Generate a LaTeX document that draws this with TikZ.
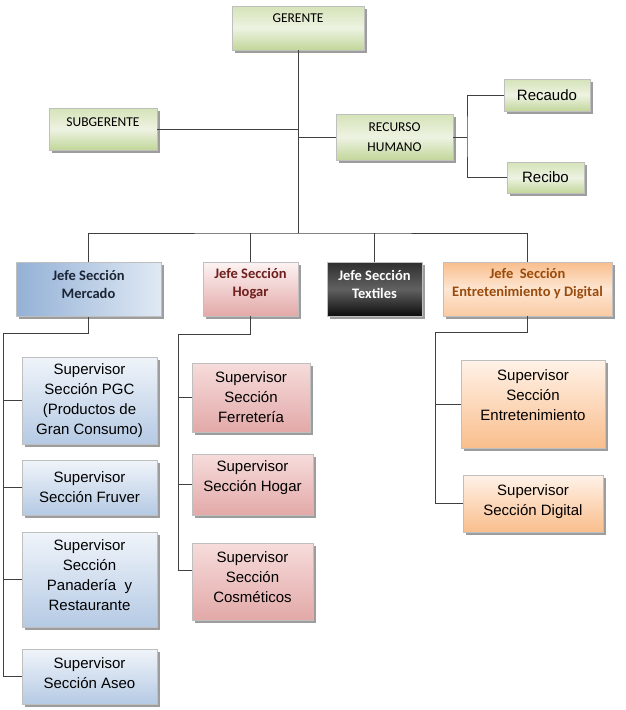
\documentclass[tikz,border=0pt]{standalone}
\usepackage{fontspec}
\setmainfont{Carlito}
\newfontfamily\arialfont{Liberation Sans}
\usetikzlibrary{shadows}
\definecolor{lineg}{HTML}{404040}
\definecolor{grtop}{HTML}{D5E3B8}
\definecolor{grmid}{HTML}{EDF3E2}
\definecolor{grbot}{HTML}{C2D69A}
\definecolor{bltop}{HTML}{F0F4FA}
\definecolor{blbot}{HTML}{B5CAE4}
\definecolor{bldark}{HTML}{93B1D6}
\definecolor{bllight}{HTML}{E0E9F4}
\definecolor{pktop}{HTML}{F6DCDB}
\definecolor{pkbot}{HTML}{E2A9A8}
\definecolor{pkhead}{HTML}{FDF3F3}
\definecolor{ortop}{HTML}{FFF2E8}
\definecolor{orbot}{HTML}{F9BE8C}
\definecolor{ormid}{HTML}{FDE6D3}
\definecolor{maroon}{HTML}{6E1F1E}
\definecolor{brownor}{HTML}{9A4A0A}
\definecolor{navyk}{HTML}{1C2536}
\tikzstyle{link}=[
	-,
	draw=lineg,
	line width=1pt
]
\tikzstyle{box}=[
	rectangle,
	draw=black!25,
	line width=0.5pt,
	align=center,
	inner sep=1mm,
	drop shadow={shadow xshift=2.5pt, shadow yshift=-2.5pt, fill=black!55, opacity=0.7}
]
\tikzstyle{gbox}=[
	box,
	top color=grtop,
	bottom color=grbot,
	middle color=grmid,
	font=\fontsize{13.5}{20}\selectfont
]
\tikzstyle{gsmall}=[
	gbox,
	font=\arialfont\fontsize{15}{20}\selectfont
]
\tikzstyle{jbox}=[
	box,
	font=\bfseries\fontsize{14.5}{18}\selectfont,
	minimum height=54pt
]
\tikzstyle{sbox}=[
	box,
	font=\arialfont\fontsize{15}{20}\selectfont
]
\tikzstyle{sblue}=[
	sbox,
	top color=bltop,
	bottom color=blbot,
	minimum width=135pt
]
\tikzstyle{spink}=[
	sbox,
	top color=pktop,
	bottom color=pkbot
]
\tikzstyle{sorange}=[
	sbox,
	top color=ortop,
	bottom color=orbot
]

\begin{document}
\begin{tikzpicture}[x=1pt,y=-1pt]
\useasboundingbox (0,0) rectangle (626,710);
% top levels
\node[gbox, minimum width=132pt, minimum height=44pt, text depth=20pt] (gerente) at (298,28) {GERENTE};
\node[gbox, minimum width=108pt, minimum height=42pt, text depth=14pt] (subgerente) at (103,129) {SUBGERENTE};
\node[gbox, minimum width=117pt, minimum height=46pt] (rh) at (394.5,137) {RECURSO\\HUMANO};
\node[gsmall, minimum width=86pt, minimum height=32pt] (recaudo) at (547,95) {Recaudo};
\node[gsmall, minimum width=77pt, minimum height=31pt] (recibo) at (545.5,177.5) {Recibo};

% jefes
\node[jbox, left color=bldark, right color=bllight, text=navyk, minimum width=145pt, text depth=10pt] (jmercado) at (88.5,289.5) {Jefe Sección\\Mercado};
\node[jbox, top color=pkhead, bottom color=pkbot, text=maroon, minimum width=95pt, text depth=13pt] (jhogar) at (250.5,289) {Jefe Sección\\Hogar};
\node[jbox, top color=black!82, bottom color=black!95, middle color=black!62, text=white, minimum width=95pt, text depth=10pt] (jtextiles) at (374.5,289) {Jefe Sección\\Textiles};
\node[jbox, top color=orbot, bottom color=orbot!80, middle color=ormid, text=brownor, minimum width=169pt, text depth=13pt] (jent) at (527.5,289) {Jefe\ \ Sección\\Entretenimiento y Digital};

% supervisores
\node[sblue, minimum height=87pt] (pgc) at (89.5,400.5) {Supervisor\\Sección PGC\\(Productos de\\Gran Consumo)};
\node[sblue, minimum height=55pt] (fruver) at (89.5,487.5) {Supervisor\\Sección Fruver};
\node[sblue, minimum height=95pt, text depth=9pt] (panad) at (89.5,579.5) {Supervisor\\Sección\\Panadería\ \ y\\Restaurante};
\node[sblue, minimum height=55pt, text depth=7pt] (aseo) at (89.5,676.5) {Supervisor\\Sección Aseo};

\node[spink, minimum width=118pt, minimum height=69pt] (ferret) at (251,397.5) {Supervisor\\Sección\\Ferretería};
\node[spink, minimum width=121pt, minimum height=61pt, text depth=16pt] (shogar) at (252.5,484.5) {Supervisor\\Sección Hogar};
\node[spink, minimum width=121pt, minimum height=77pt, text depth=9pt] (cosm) at (252.5,581.5) {Supervisor\\Sección\\Cosméticos};

\node[sorange, minimum width=144pt, minimum height=88pt, text depth=18pt] (sent) at (533,404) {Supervisor\\Sección\\Entretenimiento};
\node[sorange, minimum width=140pt, minimum height=57pt, text depth=7pt] (sdig) at (533,503.5) {Supervisor\\Sección Digital};

% connectors
\coordinate (bus) at (298,233);
\draw[link] (gerente.south) -- (bus);
\draw[link] (subgerente.east) -- (subgerente.east -| gerente.south);
\draw[link] (rh.west) -- (rh.west -| gerente.south);
\coordinate (rhfork) at (467,137);
\draw[link] (rh.east) -- (rhfork);
\draw[link] (recaudo.west) -| (rhfork) |- (recibo.west);

\draw[link] (jmercado.north) |- (bus) -| (jent.north);
\draw[link] (jhogar.north) -- (jhogar.north |- bus);
\draw[link] (jtextiles.north) -- (jtextiles.north |- bus);

\coordinate (mrail) at (3,333);
\draw[link] (jmercado.south) |- (mrail) |- (aseo.west);
\foreach \n in {pgc,fruver,panad}
	\draw[link] (\n.west) -- (\n.west -| mrail);

\coordinate (hrail) at (178,334);
\draw[link] (jhogar.south) |- (hrail) |- ([yshift=11pt]cosm.west);
\foreach \n in {ferret,shogar}
	\draw[link] (\n.west) -- (\n.west -| hrail);

\coordinate (erail) at (435,332);
\draw[link] (jent.south) |- (erail) |- (sdig.west);
\draw[link] (sent.west) -- (sent.west -| erail);
\end{tikzpicture}
\end{document}
